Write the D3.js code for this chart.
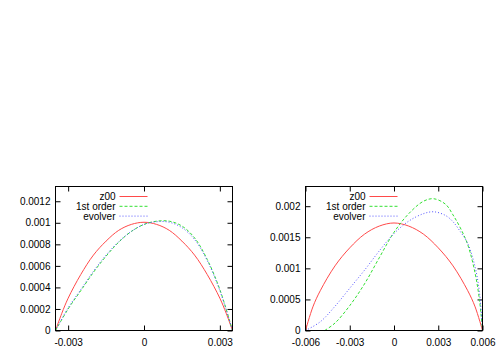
<!DOCTYPE html>
<html>
<head>
<meta charset="utf-8">
<script src="https://cdn.jsdelivr.net/npm/d3@7"></script>
<style>
  body { margin: 0; background: #fff; }
  svg { display: block; font-family: "Liberation Sans", Arial, sans-serif; }
</style>
</head>
<body>
<script>
// ---- data (x, y in units of 1e-3) ----
var seriesNames = ["z00", "1st order", "evolver"];

// left panel
var leftXTicks = [-0.003, 0, 0.003];
var leftXLabels = ["-0.003", "0", "0.003"];
var leftYTicks = [0, 0.0002, 0.0004, 0.0006, 0.0008, 0.001, 0.0012];
var leftYLabels = ["0", "0.0002", "0.0004", "0.0006", "0.0008", "0.001", "0.0012"];

var leftZ00X = [-3.5, -3.25, -3.0, -2.5, -2.0, -1.5, -1.0, -0.5, 0, 0.5, 1.0, 1.5, 2.0, 2.5, 3.0, 3.25, 3.5];
var leftZ00Y = [0, 0.16, 0.30, 0.52, 0.70, 0.83, 0.93, 0.985, 1.005, 0.985, 0.93, 0.83, 0.70, 0.52, 0.30, 0.16, 0];

var leftFirstX = [-3.5, -3.0, -2.5, -2.0, -1.5, -1.0, -0.5, 0, 0.5, 1.0, 1.5, 2.0, 2.5, 3.0, 3.5];
var leftFirstY = [0, 0.20, 0.37, 0.54, 0.69, 0.82, 0.92, 0.985, 1.015, 1.015, 0.97, 0.86, 0.66, 0.38, 0];

var leftEvolverX = [-3.5, -3.0, -2.5, -2.0, -1.5, -1.0, -0.5, 0, 0.5, 1.0, 1.5, 2.0, 2.5, 3.0, 3.5];
var leftEvolverY = [0, 0.21, 0.38, 0.55, 0.70, 0.825, 0.92, 0.985, 1.01, 1.005, 0.955, 0.845, 0.65, 0.37, 0];

// right panel
var rightXTicks = [-0.006, -0.003, 0, 0.003, 0.006];
var rightXLabels = ["-0.006", "-0.003", "0", "0.003", "0.006"];
var rightYTicks = [0, 0.0005, 0.001, 0.0015, 0.002];
var rightYLabels = ["0", "0.0005", "0.001", "0.0015", "0.002"];

var rightZ00X = [-6.0, -5.5, -5.0, -4.0, -3.0, -2.0, -1.0, 0, 1.0, 2.0, 3.0, 4.0, 5.0, 5.5, 6.0];
var rightZ00Y = [0, 0.38, 0.64, 1.04, 1.33, 1.55, 1.68, 1.73, 1.68, 1.55, 1.33, 1.04, 0.64, 0.38, 0];

var rightFirstX = [-4.7, -4.0, -3.0, -2.0, -1.0, 0, 1.0, 2.0, 2.7, 3.5, 4.0, 4.5, 5.0, 5.5, 5.8, 6.0];
var rightFirstY = [0, 0.12, 0.40, 0.75, 1.17, 1.58, 1.88, 2.08, 2.12, 2.03, 1.86, 1.65, 1.38, 0.92, 0.48, 0];

var rightEvolverX = [-6.0, -5.0, -4.0, -3.0, -2.0, -1.0, 0, 1.0, 2.0, 2.7, 3.5, 4.0, 4.5, 5.0, 5.5, 5.8, 6.0];
var rightEvolverY = [0, 0.14, 0.39, 0.68, 0.97, 1.28, 1.56, 1.76, 1.88, 1.91, 1.85, 1.75, 1.59, 1.40, 1.02, 0.60, 0];

var width = 500;
var height = 350;

var styles = [
    { color: "#ff4a4a", dash: null },
    { color: "#33e033", dash: "3,2" },
    { color: "#5555ff", dash: "1,2" }
];

function toPoints(xs, ys) {
    return xs.map((x, i) => [x / 1000, ys[i] / 1000]);
}

function drawPanel(svg, p) {
    const x = d3.scaleLinear().domain(p.xDomain).range([p.left, p.right]);
    const y = d3.scaleLinear().domain(p.yDomain).range([p.bottom, p.top]);
    const g = svg.append("g");

    // ticks (inward, mirrored like gnuplot)
    g.append("g")
        .attr("transform", `translate(${p.left},0)`)
        .call(d3.axisLeft(y).tickValues(p.yTicks).tickSizeInner(-5).tickSizeOuter(0)
            .tickPadding(5).tickFormat((d, i) => p.yLabels[i]));
    g.append("g")
        .attr("transform", `translate(${p.right},0)`)
        .call(d3.axisRight(y).tickValues(p.yTicks).tickSizeInner(-5).tickSizeOuter(0).tickFormat(""));
    g.append("g")
        .attr("transform", `translate(0,${p.bottom})`)
        .call(d3.axisBottom(x).tickValues(p.xTicks).tickSizeInner(-5).tickSizeOuter(0)
            .tickPadding(8).tickFormat((d, i) => p.xLabels[i]));
    g.append("g")
        .attr("transform", `translate(0,${p.top})`)
        .call(d3.axisTop(x).tickValues(p.xTicks).tickSizeInner(-5).tickSizeOuter(0).tickFormat(""));

    g.selectAll(".domain").remove();
    g.selectAll(".tick line").attr("stroke", "#000");
    g.selectAll(".tick text")
        .attr("fill", "#000")
        .style("font-family", "'Liberation Sans', Arial, sans-serif")
        .style("font-size", "10px");

    // curves
    const line = d3.line()
        .x(d => x(d[0]))
        .y(d => y(d[1]))
        .curve(d3.curveCatmullRom.alpha(0.5));

    g.append("g")
        .selectAll("path")
        .data(p.series)
        .join("path")
        .attr("fill", "none")
        .attr("stroke", (d, i) => styles[i].color)
        .attr("stroke-width", 1)
        .attr("stroke-dasharray", (d, i) => styles[i].dash)
        .attr("d", line);

    // legend
    const leg = g.append("g")
        .selectAll("g")
        .data(seriesNames)
        .join("g")
        .attr("transform", (d, i) => `translate(${p.left + 60},${p.top + 10 + i * 9.8})`);
    leg.append("text")
        .attr("text-anchor", "end")
        .attr("dy", "0.35em")
        .style("font-size", "10px")
        .text(d => d);
    leg.append("line")
        .attr("x1", 4).attr("x2", 32)
        .attr("stroke", (d, i) => styles[i].color)
        .attr("stroke-dasharray", (d, i) => styles[i].dash);

    // frame
    g.append("rect")
        .attr("x", p.left).attr("y", p.top)
        .attr("width", p.right - p.left).attr("height", p.bottom - p.top)
        .attr("fill", "none")
        .attr("stroke", "#000");
}

const svg = d3.select("body").append("svg")
    .attr("width", width)
    .attr("height", height)
    .attr("viewBox", [0, 0, width, height]);

drawPanel(svg, {
    left: 55.5, right: 232.5, top: 186.5, bottom: 330.5,
    xDomain: [-0.0035, 0.0035], yDomain: [0, 0.001337],
    xTicks: leftXTicks, xLabels: leftXLabels,
    yTicks: leftYTicks, yLabels: leftYLabels,
    series: [
        toPoints(leftZ00X, leftZ00Y),
        toPoints(leftFirstX, leftFirstY),
        toPoints(leftEvolverX, leftEvolverY)
    ]
});

drawPanel(svg, {
    left: 305.5, right: 482.5, top: 186.5, bottom: 330.5,
    xDomain: [-0.006, 0.006], yDomain: [0, 0.002317],
    xTicks: rightXTicks, xLabels: rightXLabels,
    yTicks: rightYTicks, yLabels: rightYLabels,
    series: [
        toPoints(rightZ00X, rightZ00Y),
        toPoints(rightFirstX, rightFirstY),
        toPoints(rightEvolverX, rightEvolverY)
    ]
});
</script>
</body>
</html>
